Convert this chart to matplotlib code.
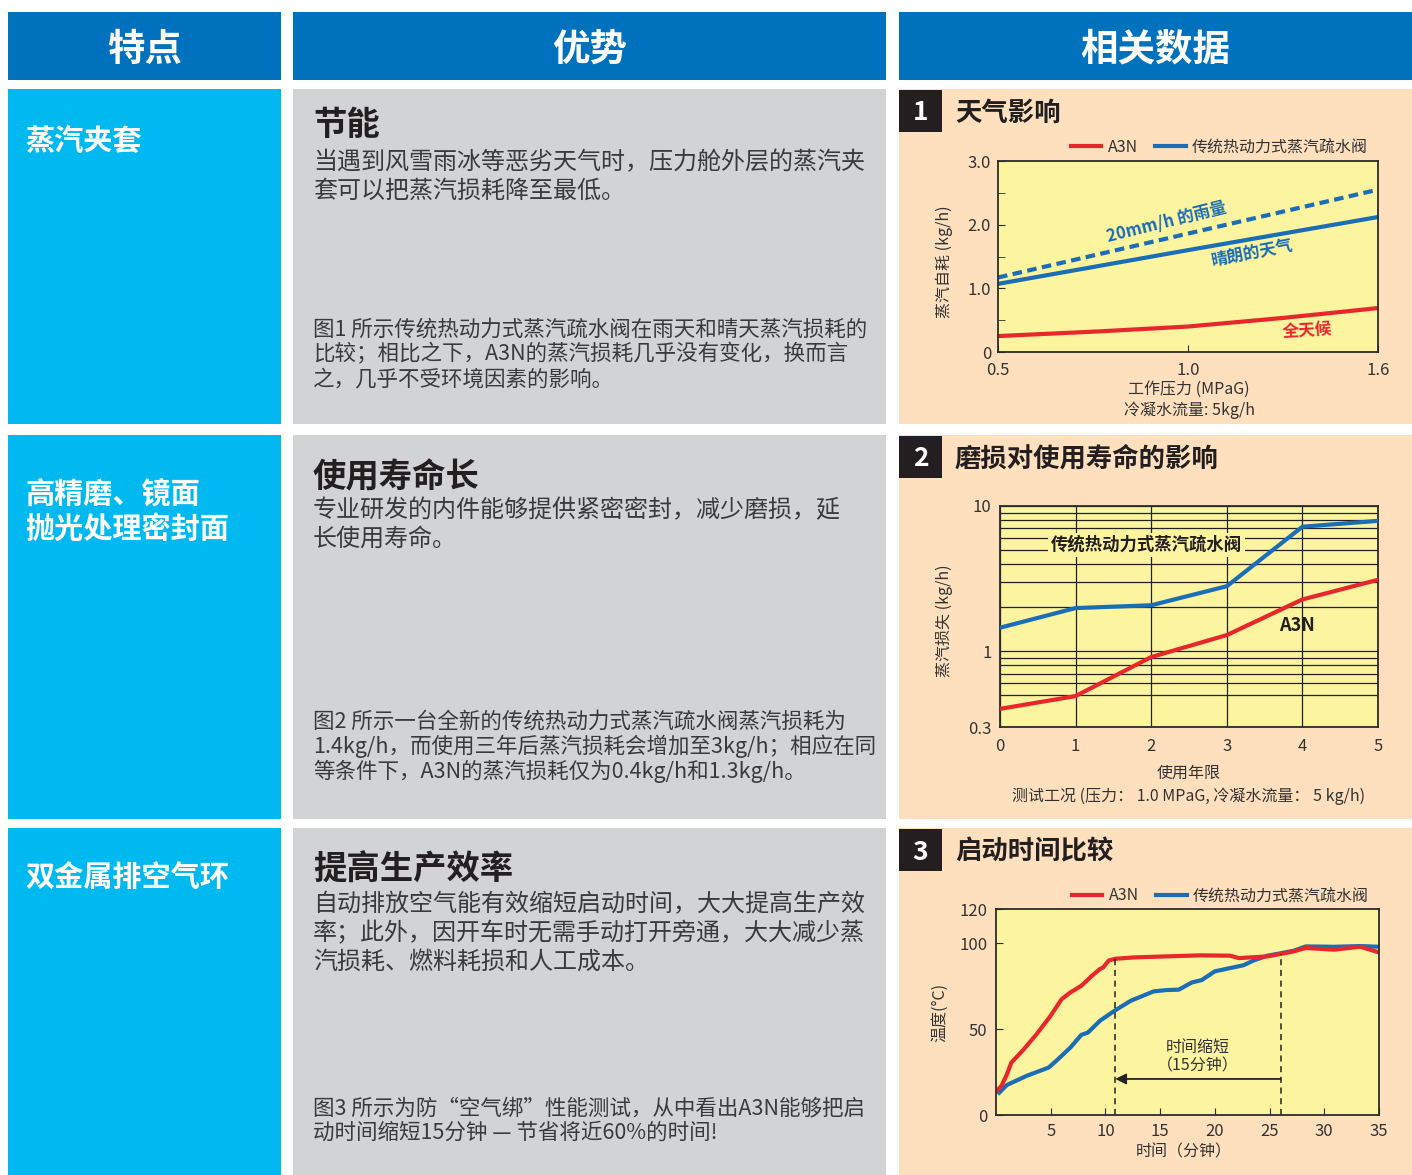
import numpy as np
import matplotlib
matplotlib.use('Agg')
import matplotlib.pyplot as plt
from matplotlib.patches import Rectangle
from matplotlib.ticker import FixedLocator, NullFormatter

plt.rcParams['font.family'] = ['Noto Sans CJK SC', 'DejaVu Sans']

W, H = 1412, 1175

HEAD_BLUE = '#0071bc'
CYAN = '#00b9f1'
GREY = '#d2d3d5'
PEACH = '#fee0bf'
YELLOW = '#fdf4a0'
RED = '#e8272d'
BLUE = '#1b6db5'
DARK = '#231f20'
TEXT = '#3a3a3a'

# ---- texts ----
headers = ['特点', '优势', '相关数据']
features = [['蒸汽夹套'], ['高精磨、镜面', '抛光处理密封面'], ['双金属排空气环']]
adv_titles = ['节能', '使用寿命长', '提高生产效率']
adv_body = [
    ['当遇到风雪雨冰等恶劣天气时，压力舱外层的蒸汽夹',
     '套可以把蒸汽损耗降至最低。'],
    ['专业研发的内件能够提供紧密密封，减少磨损，延',
     '长使用寿命。'],
    ['自动排放空气能有效缩短启动时间，大大提高生产效',
     '率；此外，因开车时无需手动打开旁通，大大减少蒸',
     '汽损耗、燃料耗损和人工成本。'],
]
adv_notes = [
    ['图1 所示传统热动力式蒸汽疏水阀在雨天和晴天蒸汽损耗的',
     '比较；相比之下，A3N的蒸汽损耗几乎没有变化，换而言',
     '之，几乎不受环境因素的影响。'],
    ['图2 所示一台全新的传统热动力式蒸汽疏水阀蒸汽损耗为',
     '1.4kg/h，而使用三年后蒸汽损耗会增加至3kg/h；相应在同',
     '等条件下，A3N的蒸汽损耗仅为0.4kg/h和1.3kg/h。'],
    ['图3 所示为防“空气绑”性能测试，从中看出A3N能够把启',
     '动时间缩短15分钟 — 节省将近60%的时间!'],
]
chart_titles = ['天气影响', '磨损对使用寿命的影响', '启动时间比较']
series_names = ['A3N', '传统热动力式蒸汽疏水阀']

# ---- chart 1: weather (x axis is 0.5 | 1.0 | 1.6 evenly spaced) ----
pressure_ticks = [0.5, 1.0, 1.6]
pressure = [0.5, 1.0, 1.6]
rain_loss = [1.17, 1.86, 2.55]
fine_loss = [1.07, 1.60, 2.12]
a3n_pressure = [0.5, 0.77, 1.0, 1.3, 1.6]
a3n_loss = [0.25, 0.325, 0.40, 0.535, 0.69]

# ---- chart 2: wear ----
years = [0, 1, 2, 3, 4, 5]
trad_wear = [1.45, 1.98, 2.07, 2.8, 7.2, 7.9]
a3n_wear = [0.40, 0.49, 0.91, 1.29, 2.27, 3.1]

# ---- chart 3: start-up ----
a3n_t = [0.06, 0.5, 1.0, 1.4, 2.5, 3.7, 4.9, 6.0, 6.8, 7.8, 8.75, 9.5, 9.8,
         10.3, 10.9, 12.6, 15.6, 18.7, 21.4, 22.2, 24.8, 26.0, 27.2, 28.3,
         30.9, 33.3, 35.0]
a3n_temp = [14, 17, 23.7, 30.5, 38, 47, 57, 67.5, 71.4, 75.3, 81, 85, 86,
            90, 91, 91.8, 92.4, 93, 92.8, 91.4, 92.4, 93.8, 95.3, 97.3,
            96.3, 98, 94.7]
trad_t = [0.3, 1.0, 2.8, 4.8, 5.5, 6.8, 7.8, 8.4, 9.5, 10.9, 12.3, 14.4,
          15.6, 16.7, 17.9, 18.8, 20.0, 21.7, 22.6, 23.5, 24.8, 26.0, 27.2,
          28.3, 30.9, 33.3, 35.0]
trad_temp = [13, 17.5, 22.8, 27.6, 31.5, 39.3, 46.7, 48, 54.9, 61, 66.5, 72,
             72.8, 73, 77.2, 78.6, 83.7, 86, 87.2, 89.9, 92.8, 94.2, 95.7,
             98.2, 98, 98.4, 98]
reach_a3n = 10.9
reach_trad = 26.0

fig = plt.figure(figsize=(W / 100, H / 100), dpi=100)
bg = fig.add_axes([0, 0, 1, 1])
bg.set_xlim(0, W)
bg.set_ylim(H, 0)
bg.axis('off')


def box(x0, y0, x1, y1, color):
    bg.add_patch(Rectangle((x0, y0), x1 - x0, y1 - y0, facecolor=color,
                           edgecolor='none'))


def px_axes(x0, y0, x1, y1):
    return fig.add_axes([x0 / W, 1 - y1 / H, (x1 - x0) / W, (y1 - y0) / H])


cols = [(8, 281), (293, 886), (899, 1412)]
rows = [(89, 424), (435, 819), (828, 1175)]

# header row
for (x0, x1), name in zip(cols, headers):
    box(x0, 12, x1, 80, HEAD_BLUE)
    bg.text((x0 + x1) / 2, 49, name, color='white', fontsize=27,
            fontweight='bold', ha='center', va='center')

feat_y = [[141], [494, 529], [878]]
title_y = [125, 478, 870]
body_y = [162, 510, 904]
note_y = [330, 722, 1108]

for i, (y0, y1) in enumerate(rows):
    box(cols[0][0], y0, cols[0][1], y1, CYAN)
    box(cols[1][0], y0, cols[1][1], y1, GREY)
    box(cols[2][0], y0, cols[2][1], y1, PEACH)
    for line, yy in zip(features[i], feat_y[i]):
        bg.text(25, yy, line, color='white', fontsize=21, fontweight='bold',
                ha='left', va='center')
    bg.text(313, title_y[i], adv_titles[i], color=DARK, fontsize=24,
            fontweight='bold', ha='left', va='center')
    for k, line in enumerate(adv_body[i]):
        bg.text(313, body_y[i] + k * 29, line, color=TEXT, fontsize=17.3,
                ha='left', va='center')
    for k, line in enumerate(adv_notes[i]):
        bg.text(313, note_y[i] + k * 24.5, line, color=TEXT, fontsize=15.5,
                ha='left', va='center')
    # number tag + chart title
    box(899, y0 + 1, 942, y0 + 43, DARK)
    bg.text(920.5, y0 + 24, str(i + 1), color='white', fontsize=19,
            fontweight='bold', ha='center', va='center')
    bg.text(955, y0 + 24, chart_titles[i], color=DARK, fontsize=19,
            fontweight='bold', ha='left', va='center')


def style_axes(ax):
    ax.set_facecolor(YELLOW)
    for s in ax.spines.values():
        s.set_color('#2b2b2b')
        s.set_linewidth(1.3)
    ax.tick_params(which='both', direction='in', labelsize=12,
                   labelcolor='#333333', color='#2b2b2b')


# ---- chart 1 ----
ax1 = px_axes(998, 161, 1378, 352)
style_axes(ax1)
even = np.linspace(0, 1, len(pressure_ticks))
ax1.set_xscale('function',
               functions=(lambda v: np.interp(v, pressure_ticks, even),
                          lambda u: np.interp(u, even, pressure_ticks)))
ax1.plot(pressure, rain_loss, color=BLUE, lw=3, ls=(0, (2.3, 1.3)))
blue1, = ax1.plot(pressure, fine_loss, color=BLUE, lw=3)
red1, = ax1.plot(a3n_pressure, a3n_loss, color=RED, lw=3)
ax1.set_xlim(0.5, 1.6)
ax1.set_ylim(0, 3)
ax1.set_xticks(pressure_ticks, ['0.5', '1.0', '1.6'])
ax1.xaxis.set_minor_locator(FixedLocator([]))
ax1.set_yticks([0, 1, 2, 3], ['0', '1.0', '2.0', '3.0'])
ax1.set_yticks([0.5, 1.5, 2.5], minor=True)
ax1.tick_params(axis='x', length=5, pad=7)
ax1.tick_params(axis='y', length=5, pad=5)
ax1.tick_params(axis='y', which='minor', length=5)
ax1.text(0.945, 2.03, '20mm/h 的雨量', color=BLUE, fontsize=12,
         fontweight='bold', rotation=14, ha='center', va='center')
ax1.text(1.205, 1.55, '晴朗的天气', color=BLUE, fontsize=12,
         fontweight='bold', rotation=11, ha='center', va='center')
ax1.text(1.376, 0.33, '全天候', color=RED, fontsize=12,
         fontweight='bold', rotation=3, ha='center', va='center')
ax1.legend([red1, blue1], series_names, loc='lower right',
           bbox_to_anchor=(0.995, 0.985), ncol=2, frameon=False, fontsize=11.5,
           handlelength=1.9, handletextpad=0.4, columnspacing=1.1,
           borderaxespad=0.1, labelcolor='#333333')
bg.text(944, 262, '蒸汽自耗 (kg/h)', rotation=90, fontsize=11.5,
        color='#333333', ha='center', va='center')
bg.text(1189, 389, '工作压力 (MPaG)', fontsize=11.5, color='#333333',
        ha='center', va='center')
bg.text(1189, 410, '冷凝水流量: 5kg/h', fontsize=11.5, color='#333333',
        ha='center', va='center')

# ---- chart 2 ----
ax2 = px_axes(1000, 506, 1378, 727)
style_axes(ax2)
ax2.set_yscale('log')
ax2.set_xlim(0, 5)
ax2.set_ylim(0.3, 10)
ax2.set_xticks(years, [str(y) for y in years])
ax2.set_yticks([0.3, 1, 10], ['0.3', '1', '10'])
ax2.yaxis.set_minor_locator(FixedLocator([0.5, 0.6, 0.7, 0.8, 0.9,
                                          2, 3, 4, 5, 6, 7, 8, 9]))
ax2.yaxis.set_minor_formatter(NullFormatter())
ax2.grid(which='both', axis='y', color='#222222', lw=0.9)
ax2.grid(which='major', axis='x', color='#222222', lw=0.9)
ax2.tick_params(which='both', length=0)
ax2.tick_params(axis='x', pad=8)
ax2.tick_params(axis='y', pad=6)
ax2.plot(years, trad_wear, color=BLUE, lw=3, zorder=3)
ax2.plot(years, a3n_wear, color=RED, lw=3, zorder=3)
ax2.text(1.94, 5.4, series_names[1], color=DARK, fontsize=12.5,
         fontweight='bold', ha='center', va='center', zorder=4,
         bbox=dict(facecolor=YELLOW, edgecolor='none', pad=2))
ax2.text(3.93, 1.51, series_names[0], color=DARK, fontsize=13,
         fontweight='bold', ha='center', va='center', zorder=4)
bg.text(944, 621, '蒸汽损失 (kg/h)', rotation=90, fontsize=11.5,
        color='#333333', ha='center', va='center')
bg.text(1189, 773, '使用年限', fontsize=11.5, color='#333333',
        ha='center', va='center')
bg.text(1189, 796, '测试工况 (压力： 1.0 MPaG, 冷凝水流量： 5 kg/h)',
        fontsize=11.5, color='#333333', ha='center', va='center')

# ---- chart 3 ----
ax3 = px_axes(996, 909, 1379, 1115)
style_axes(ax3)
ax3.set_xlim(0, 35)
ax3.set_ylim(0, 120)
ax3.set_xticks([5, 10, 15, 20, 25, 30, 35])
ax3.set_yticks([0, 50, 100, 120])
ax3.tick_params(axis='x', length=5, pad=6)
ax3.tick_params(axis='y', length=5, pad=6)
blue3, = ax3.plot(trad_t, trad_temp, color=BLUE, lw=3)
red3, = ax3.plot(a3n_t, a3n_temp, color=RED, lw=3)
for t in (reach_a3n, reach_trad):
    top = np.interp(t, a3n_t, a3n_temp)
    ax3.plot([t, t], [0, top], color='#222222', lw=1.1, ls=(0, (4, 3)))
ax3.annotate('', xy=(reach_a3n, 21), xytext=(reach_trad, 21),
             arrowprops=dict(arrowstyle='-|>', color='#222222', lw=1.3,
                             mutation_scale=16, shrinkA=0, shrinkB=0))
mid = (reach_a3n + reach_trad) / 2
ax3.text(mid, 39.5, '时间缩短', fontsize=11.5, color='#333333',
         ha='center', va='center')
ax3.text(mid, 28.5, '（15分钟）', fontsize=11.5, color='#333333',
         ha='center', va='center')
ax3.legend([red3, blue3], series_names, loc='lower right',
           bbox_to_anchor=(0.995, 0.985), ncol=2, frameon=False, fontsize=11.5,
           handlelength=1.9, handletextpad=0.4, columnspacing=1.1,
           borderaxespad=0.1, labelcolor='#333333')
bg.text(940, 1012, '温度(°C)', rotation=90, fontsize=11.5,
        color='#333333', ha='center', va='center')
bg.text(1184, 1152, '时间（分钟）', fontsize=11.5, color='#333333',
        ha='center', va='center')

fig.savefig('out.png', dpi=100)
